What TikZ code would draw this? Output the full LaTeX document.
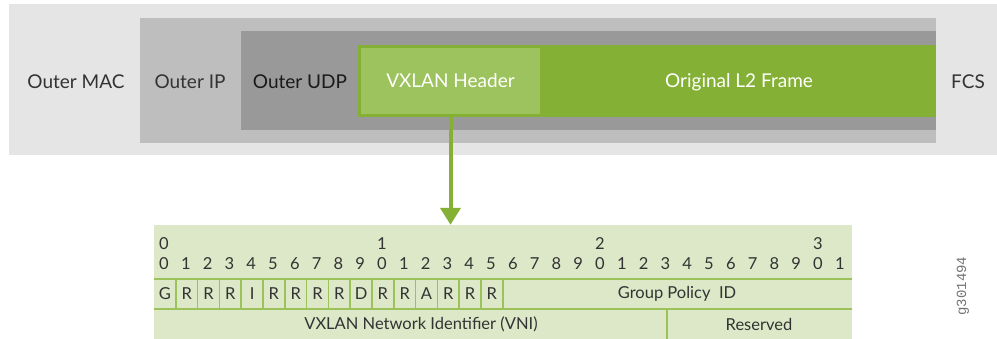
\documentclass[tikz,border=0pt]{standalone}
\usepackage{fontspec}
\setmainfont{Lato}
\newfontfamily\gidfont{Liberation Mono}
\usetikzlibrary{arrows.meta}
\definecolor{macgray}{HTML}{E5E5E5}
\definecolor{ipgray}{HTML}{BEBEBE}
\definecolor{udpgray}{HTML}{999999}
\definecolor{lgreen}{HTML}{84B135}
\definecolor{hgreen}{HTML}{9DC35E}
\definecolor{tgreen}{HTML}{DCE8C8}
\definecolor{tline}{HTML}{9CC35A}
\definecolor{txtgray}{HTML}{333333}
\tikzset{
  layer/.style={text=txtgray, font=\fontsize{19}{22}\selectfont},
  bitcell/.style={text=txtgray, font=\fontsize{16.5}{19}\selectfont, inner sep=0pt},
  gridline/.style={tline, line width=1.5pt}
}

\begin{document}
\begin{tikzpicture}[x=1pt,y=-1pt]
\useasboundingbox (0,0) rectangle (997,339);
% encapsulation layers
\fill[macgray] (9,4) rectangle (997,155);
\fill[ipgray] (140,18) rectangle (936,143);
\fill[udpgray] (241,31) rectangle (936,130);
\fill[lgreen] (358,45) rectangle (936,117);
\node[fill=hgreen, minimum width=179pt, minimum height=66pt, inner sep=0pt,
    text=white, font=\fontsize{19}{22}\selectfont] (hdr) at (450.5,81) {VXLAN Header};
\node[layer] (mac) at (76,82) {Outer MAC};
\node[layer] (ip) at (190,82) {Outer IP};
\node[layer, text=black!90] (udp) at (300,82) {Outer UDP};
\node[layer, text=white] (l2) at (739,82) {Original L2 Frame};
\node[layer] (fcs) at (968,82) {FCS};
% header format
\node[fill=tgreen, minimum width=698pt, minimum height=114pt, inner sep=0pt] (tbl) at (503,282) {};
\draw[gridline] (154,279) -- (852,279);
\draw[gridline] (154,309) -- (852,309);
\foreach \i in {1,...,16}
    \draw[gridline] ({154+21.8*\i},279) -- ({154+21.8*\i},309);
\draw[gridline] (667,309) -- (667,339);
\foreach \t in {0,1,2,3}
    \node[bitcell] (t\t) at ({154+21.8*10*\t+10},244) {\t};
\foreach \i [evaluate=\i as \d using {int(mod(\i,10))}] in {0,...,31}
    \node[bitcell] (d\i) at ({154+21.8*\i+10},264) {\d};
\foreach \b [count=\i from 0] in {G,R,R,R,I,R,R,R,R,D,R,R,A,R,R,R}
    \node[bitcell] (b\i) at ({154+21.8*\i+10.9},294) {\b};
\node[bitcell] (gpid) at (677,294) {Group Policy~~ID};
\node[bitcell] (vni) at (421,324) {VXLAN Network Identifier (VNI)};
\node[bitcell] (rsv) at (759,324) {Reserved};
\draw[lgreen, line width=4pt, -{Triangle[width=20pt,length=17pt]}]
    (hdr.south) -- (hdr.south |- tbl.north);
\node[rotate=90, text=black!55, font=\gidfont\fontsize{14}{16}\selectfont] (gid) at (963,286) {g301494};
\end{tikzpicture}
\end{document}
